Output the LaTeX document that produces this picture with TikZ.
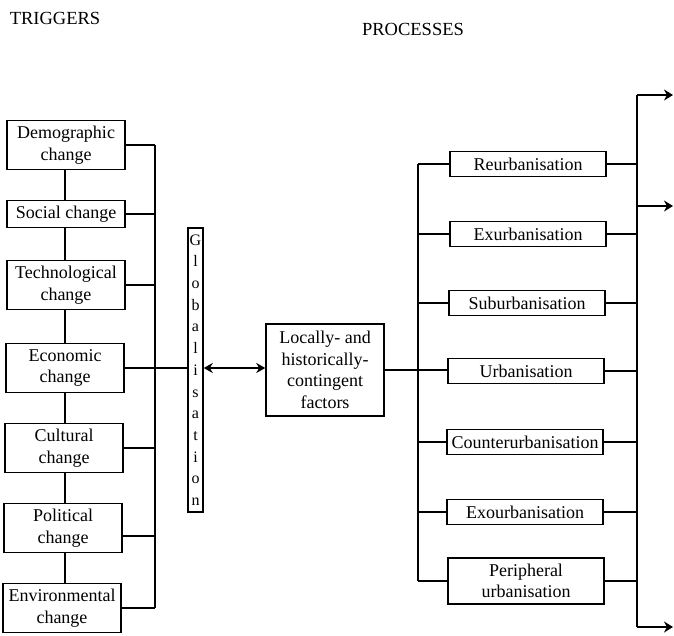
\documentclass[tikz,border=0pt]{standalone}
\usepackage{fontspec}
\setmainfont{Liberation Serif}
\usetikzlibrary{arrows.meta}
\begin{document}
\begin{tikzpicture}[x=1pt,y=-1pt,
  box/.style={draw, line width=1.5pt, inner sep=0pt, align=center, font=\fontsize{18}{21.5}\selectfont},
  trig/.style={box, minimum width=118pt, minimum height=49pt},
  proc/.style={box, minimum width=156pt, minimum height=25pt},
  conn/.style={line width=1.5pt},
  outarrow/.style={conn, -{Stealth[length=9pt,width=11pt]}},
  title/.style={font=\fontsize{18.5}{20}\selectfont, inner sep=0pt}]
\useasboundingbox (0,0) rectangle (674,635);

% titles
\node[title] (ttrig) at (55,18) {TRIGGERS};
\node[title] (tproc) at (413,29) {PROCESSES};

% triggers
\node[trig] (demo) at (66,145) {Demographic\\change};
\node[trig, minimum height=27pt] (soc) at (66,214) {Social change};
\node[trig] (tech) at (66,285) {Technological\\change};
\node[trig] (eco) at (65,368) {Economic\\change};
\node[trig] (cult) at (64,448) {Cultural\\change};
\node[trig] (pol) at (63,528) {Political\\change};
\node[trig] (env) at (62,608) {Environmental\\change};

\coordinate (vx) at (65,0);
\draw[conn] (demo.south -| vx) -- (soc.north -| vx);
\draw[conn] (soc.south -| vx) -- (tech.north -| vx);
\draw[conn] (tech.south -| vx) -- (eco.north -| vx);
\draw[conn] (eco.south -| vx) -- (cult.north -| vx);
\draw[conn] (cult.south -| vx) -- (pol.north -| vx);
\draw[conn] (pol.south -| vx) -- (env.north -| vx);

\coordinate (tb) at (155,0);
\draw[conn] (demo.east) -- (demo.east -| tb);
\draw[conn] (soc.east) -- (soc.east -| tb);
\draw[conn] (tech.east) -- (tech.east -| tb);
\draw[conn] (cult.east) -- (cult.east -| tb);
\draw[conn] ([yshift=-8pt]pol.east) -- ([yshift=-8pt]pol.east -| tb);
\draw[conn] (env.east) -- (env.east -| tb);
\draw[conn] (demo.east -| tb) -- (env.east -| tb);

% globalisation bar
\node[box, minimum width=15pt, minimum height=284pt,
      font=\fontsize{16}{21.7}\selectfont] (glob) at (195.5,370)
  {G\\l\\o\\b\\a\\l\\i\\s\\a\\t\\i\\o\\n};
\draw[conn] (eco.east) -- (glob.west |- eco.east);

% local factors
\node[box, minimum width=118pt, minimum height=92pt] (local) at (325,370)
  {Locally- and\\historically-\\contingent\\factors};
\draw[conn, {Stealth[length=9pt,width=10pt]}-{Stealth[length=9pt,width=10pt]}]
  (glob.east |- eco.east) -- (local.west |- eco.east);

% processes
\node[proc] (reur) at (528,164) {Reurbanisation};
\node[proc] (exur) at (528,234) {Exurbanisation};
\node[proc] (subu) at (527,303) {Suburbanisation};
\node[proc] (urba) at (526,371) {Urbanisation};
\node[proc] (coun) at (525,442) {Counterurbanisation};
\node[proc] (exou) at (525,512) {Exourbanisation};
\node[proc, minimum height=46pt] (peri) at (526,581) {Peripheral\\urbanisation};

\draw[conn] (local.east) -- (urba.west |- local.east);

\coordinate (pl) at (418,0);
\coordinate (pr) at (637,0);
\foreach \n in {reur,exur,subu,coun,exou,peri}{
  \draw[conn] (\n.west) -- (\n.west -| pl);
}
\foreach \n in {reur,exur,subu,urba,coun,exou,peri}{
  \draw[conn] (\n.east) -- (\n.east -| pr);
}
\draw[conn] (reur.west -| pl) -- (peri.west -| pl);

\coordinate (rtop) at (637,95);
\coordinate (rmid) at (637,206);
\coordinate (rbot) at (637,627);
\coordinate (otop) at (673,95);
\coordinate (omid) at (673,206);
\coordinate (obot) at (673,627);
\draw[conn] (rtop) -- (rbot);
\draw[outarrow] (rtop) -- (otop);
\draw[outarrow] (rmid) -- (omid);
\draw[outarrow] (rbot) -- (obot);
\end{tikzpicture}
\end{document}
